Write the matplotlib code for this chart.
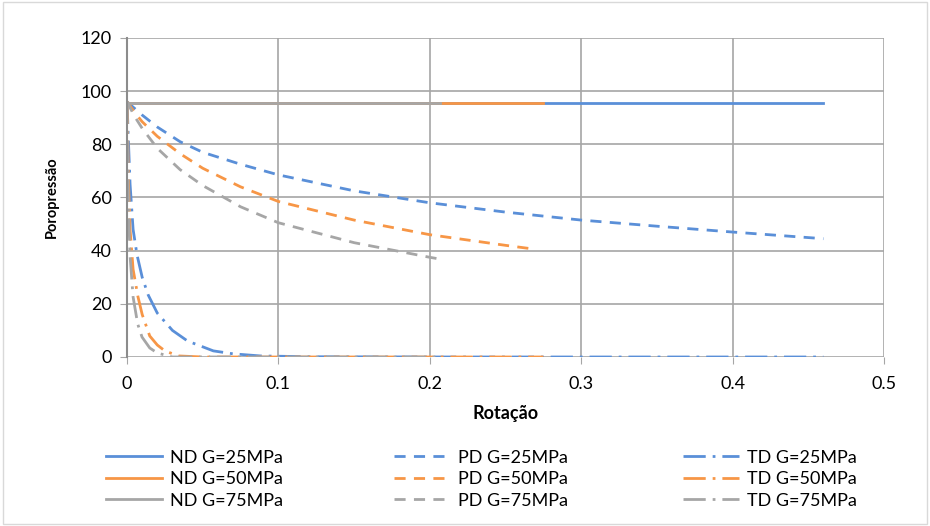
import numpy as np
import matplotlib.pyplot as plt
from matplotlib.patches import Rectangle

plt.rcParams['font.family'] = ['Lato', 'DejaVu Sans']

# colours for G = 25, 50, 75 MPa
colors = ['#5a8fd8', '#f79646', '#a6a6a6']
g_labels = ['G=25MPa', 'G=50MPa', 'G=75MPa']

# ND - constant pore pressure
nd_x = [[0, 0.46], [0, 0.275], [0, 0.207]]
nd_y = [[95.5, 95.5], [95.5, 95.5], [95.5, 95.5]]

# PD
pd_x = [
    [0, 0.005, 0.01, 0.02, 0.035, 0.05, 0.075, 0.1, 0.15, 0.2, 0.25, 0.3, 0.35, 0.4, 0.46],
    [0, 0.005, 0.01, 0.02, 0.035, 0.05, 0.075, 0.1, 0.15, 0.2, 0.25, 0.27],
    [0, 0.005, 0.01, 0.02, 0.035, 0.05, 0.075, 0.1, 0.15, 0.2, 0.207],
]
pd_y = [
    [96, 93.5, 91, 86.5, 81, 77, 72.5, 68.5, 62.5, 58, 54.5, 51.5, 49.2, 47, 44.5],
    [96, 92, 88.5, 83, 76.5, 71, 64, 58.5, 51.5, 46, 42, 40.5],
    [96, 90.5, 86, 78.5, 70.5, 64.5, 56.5, 50.5, 43, 37.5, 36.8],
]

# TD
td_x = [
    [0, 0.001, 0.002, 0.004, 0.0066, 0.01, 0.014, 0.02, 0.03, 0.04, 0.057, 0.07, 0.088, 0.12, 0.2, 0.3, 0.46],
    [0, 0.001, 0.002, 0.004, 0.0072, 0.01, 0.015, 0.02, 0.025, 0.034, 0.05, 0.1, 0.2, 0.275],
    [0, 0.0005, 0.001, 0.002, 0.004, 0.007, 0.0099, 0.015, 0.02, 0.03, 0.1, 0.207],
]
td_y = [
    [96, 80, 65, 48, 38.4, 30, 23.3, 16.5, 10, 6, 2.3, 1.2, 0.4, 0.1, 0, 0, 0],
    [96, 65, 48, 33, 22.7, 16, 7.9, 4.5, 2.3, 0.4, 0, 0, 0, 0],
    [96, 70, 55, 38, 22.6, 12.5, 7.5, 3.4, 1.5, 0, 0, 0],
]

fig = plt.figure(figsize=(9.3, 5.26), dpi=100)
fig.patches.append(Rectangle((0.003, 0.003), 0.994, 0.994, transform=fig.transFigure,
                             fill=False, edgecolor='#d9d9d9', lw=1))
ax = fig.add_axes([0.1366, 0.3213, 0.8139, 0.6065])

lw = 2.0
pd_dash = (4, 3)
td_dash = (8, 2.5, 1, 2.5)

handles = {'ND': [], 'PD': [], 'TD': []}
for i in range(3):
    l1, = ax.plot(nd_x[i], nd_y[i], color=colors[i], lw=lw, label='ND ' + g_labels[i])
    l2, = ax.plot(pd_x[i], pd_y[i], color=colors[i], lw=lw, dashes=pd_dash, label='PD ' + g_labels[i])
    l3, = ax.plot(td_x[i], td_y[i], color=colors[i], lw=lw, dashes=td_dash, label='TD ' + g_labels[i])
    handles['ND'].append(l1)
    handles['PD'].append(l2)
    handles['TD'].append(l3)

ax.set_xlim(0, 0.5)
ax.set_ylim(0, 120)
ax.set_xticks([0, 0.1, 0.2, 0.3, 0.4, 0.5])
ax.set_xticklabels(['0', '0.1', '0.2', '0.3', '0.4', '0.5'])
ax.set_yticks(range(0, 121, 20))
ax.grid(True, color='#a6a6a6', lw=1.2)
ax.set_axisbelow(True)
for s in ['top', 'right', 'bottom']:
    ax.spines[s].set_visible(False)
ax.spines['left'].set_color('#8c8c8c')
ax.spines['left'].set_linewidth(1.5)
ax.tick_params(axis='both', length=5, color='#a6a6a6', labelsize=13)
ax.tick_params(axis='x', pad=9)
ax.tick_params(axis='y', pad=6)

ax.set_xlabel('Rotação', fontsize=13, fontweight='bold', labelpad=9)
ax.set_ylabel('Poropressão', fontsize=10.5, fontweight='bold', labelpad=16)

# legend: three columns placed separately
x_pos = [0.114, 0.4237, 0.7344]
for key, xp in zip(['ND', 'PD', 'TD'], x_pos):
    hs = handles[key]
    fig.legend(hs, [h.get_label() for h in hs], loc='upper left',
               bbox_to_anchor=(xp, 0.145), frameon=False, fontsize=13,
               handlelength=3.1, handletextpad=0.45, labelspacing=0.3,
               borderpad=0, borderaxespad=0)

fig.savefig('out.png', dpi=100)
